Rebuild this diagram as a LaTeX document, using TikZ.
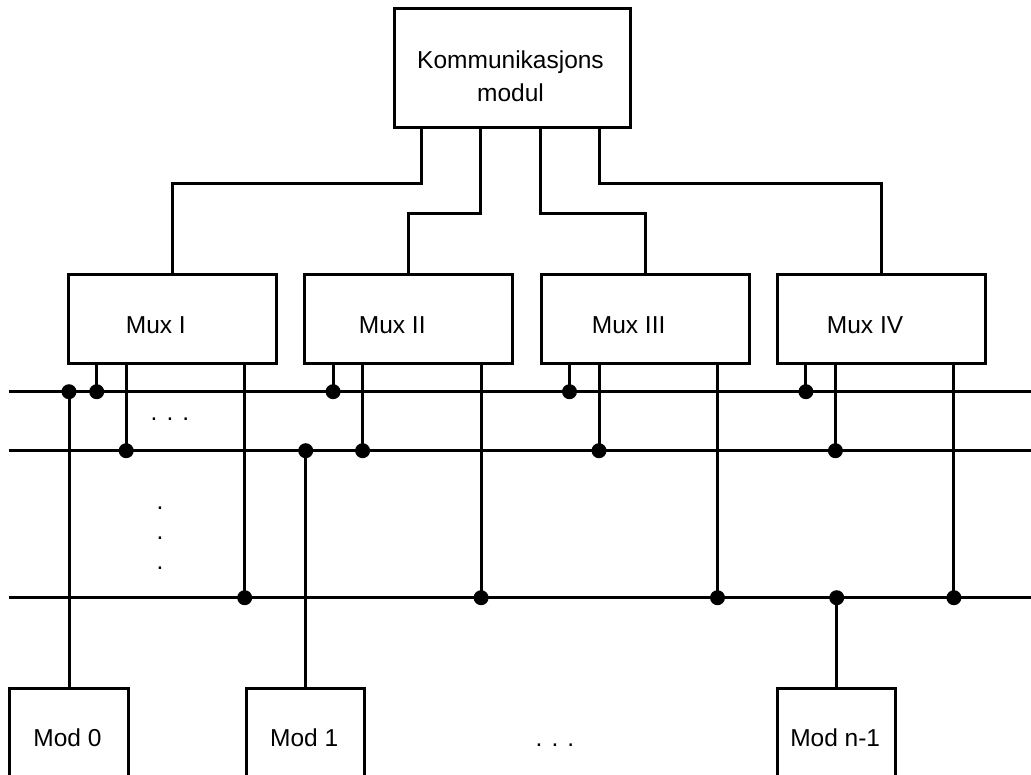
\documentclass[tikz,border=0pt]{standalone}
\usepackage{fontspec}
\setmainfont{Liberation Sans}
\usetikzlibrary{calc}
\begin{document}
\begin{tikzpicture}[x=1pt,y=-1pt,line width=3pt,
  blk/.style={draw,line width=3pt,inner sep=0pt,anchor=north west},
  muxbox/.style={blk,minimum width=208.3pt,minimum height=88.4pt},
  modbox/.style={blk,minimum width=118.4pt,minimum height=130pt},
  lbl/.style={inner sep=0pt,anchor=base,font=\fontsize{24.5}{30}\selectfont},
  dot/.style={circle,fill,inner sep=0pt,minimum size=15pt}]
\useasboundingbox (0,0) rectangle (1031,774);
\clip (0,0) rectangle (1031,774);

% bus lines
\coordinate (b1w) at (8.7,391.7);  \coordinate (b1e) at (1031,391.7);
\coordinate (b2w) at (8.7,450.7);  \coordinate (b2e) at (1031,450.7);
\coordinate (b3w) at (8.7,597.7);  \coordinate (b3e) at (1031,597.7);
\draw (b1w) -- (b1e);
\draw (b2w) -- (b2e);
\draw (b3w) -- (b3e);

% communication module
\node[blk,minimum width=235.5pt,minimum height=119pt] (kom) at (393,7) {};
\node[lbl] (komt1) at (510.5,68.3) {Kommunikasjons};
\node[lbl] (komt2) at (510.5,101) {modul};

% multiplexers and their bus taps
\foreach \i/\L/\lab in {1/66.7/Mux I,2/303.1/Mux II,3/539.5/Mux III,4/775.9/Mux IV} {
  \node[muxbox] (mux\i) at (\L,273.3) {};
  \node[lbl] (muxt\i) at (\L+89.15,333.3) {\lab};
  \coordinate (ta\i) at ($(mux\i.south west)+(30,0)$);
  \coordinate (tb\i) at ($(mux\i.south west)+(59.5,0)$);
  \coordinate (tc\i) at ($(mux\i.south west)+(178,0)$);
  \draw (ta\i) -- (ta\i |- b1w) node[dot] (da\i) {};
  \draw (tb\i) -- (tb\i |- b2w) node[dot] (db\i) {};
  \draw (tc\i) -- (tc\i |- b3w) node[dot] (dc\i) {};
}

% feeds from the communication module
\coordinate (lvl1) at (0,183);
\coordinate (lvl2) at (0,213);
\coordinate (k1) at ($(kom.south west)+(28.7,0)$);
\coordinate (k2) at ($(kom.south west)+(87.7,0)$);
\coordinate (k3) at ($(kom.south west)+(147,0)$);
\coordinate (k4) at ($(kom.south west)+(206,0)$);
\draw (k1) -- (k1 |- lvl1) -| (mux1.north);
\draw (k2) -- (k2 |- lvl2) -| (mux2.north);
\draw (k3) -- (k3 |- lvl2) -| (mux3.north);
\draw (k4) -- (k4 |- lvl1) -| (mux4.north);

% modules
\node[modbox] (mod0) at (8.3,686.7) {};
\node[modbox] (mod1) at (245,686.7) {};
\node[modbox] (modn) at (776,686.7) {};
\node[lbl] (mod0t) at (67.5,746) {Mod 0};
\node[lbl] (mod1t) at (304.2,746) {Mod 1};
\node[lbl] (modnt) at (835.2,746) {Mod n-1};
\draw (mod0.north) -- (mod0.north |- b1w) node[dot] (dm0) {};
\draw (mod1.north) -- (mod1.north |- b2w) node[dot] (dm1) {};
\draw (modn.north) -- (modn.north |- b3w) node[dot] (dmn) {};

% ellipses
\node[lbl] (hdots) at (170,420.5) {. . .};
\node[lbl] (vd1) at (160,509.5) {.};
\node[lbl] (vd2) at (160,539.5) {.};
\node[lbl] (vd3) at (160,569.5) {.};
\node[lbl] (mdots) at (555,746) {. . .};
\end{tikzpicture}
\end{document}
